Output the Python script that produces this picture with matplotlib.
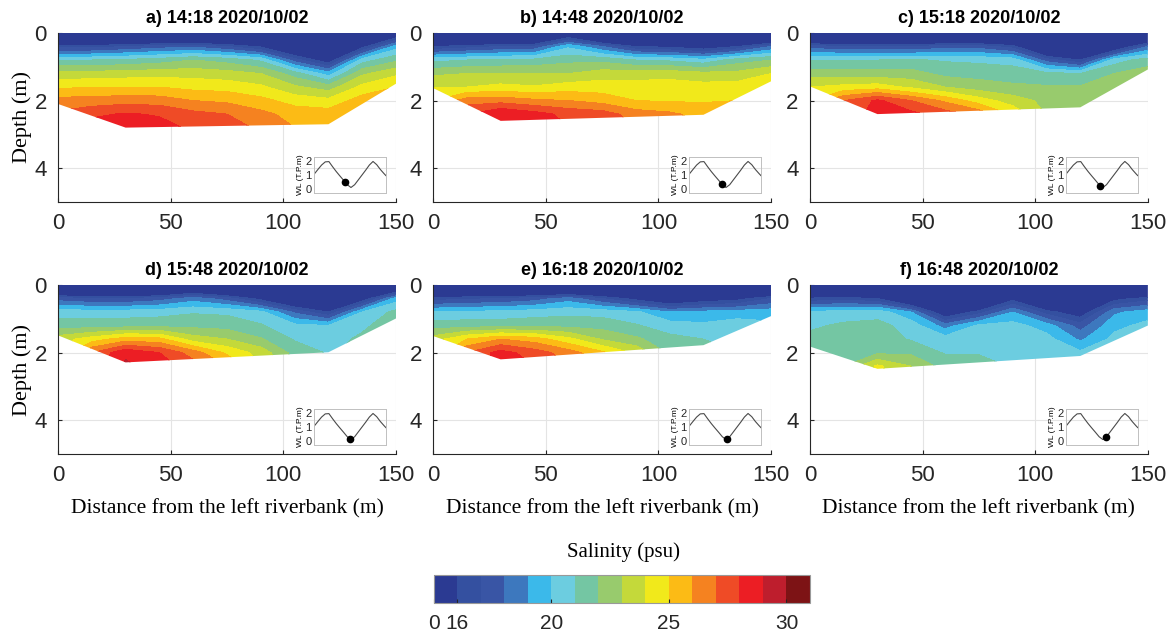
import numpy as np
import matplotlib
matplotlib.use("Agg")
import matplotlib.pyplot as plt
from matplotlib.patches import Polygon

plt.rcParams['font.family'] = ['Liberation Sans', 'DejaVu Sans']

# survey stations across the river (m) and depth levels (m)
x_st = [0, 15, 30, 45, 60, 75, 90, 105, 120, 135, 150]
z_lev = [0, 0.4, 0.8, 1.2, 1.6, 2.0, 2.4, 2.8]

# river bed (depth at bank / thalweg points)
bed_x = [0, 30, 120, 150]
bed_a = [2.1, 2.8, 2.7, 1.5]
bed_b = [1.63, 2.6, 2.42, 1.43]
bed_c = [1.58, 2.4, 2.2, 1.08]
bed_d = [1.49, 2.29, 1.99, 0.99]
bed_e = [1.51, 2.2, 1.78, 0.92]
bed_f = [1.82, 2.48, 2.1, 1.2]

# salinity profiles (psu), one row per station, values at z_lev
sal_a = [[10, 16.5, 21.0, 23.3, 24.8, 26.4, 27.2, 28.0],
         [10, 16.5, 21.0, 23.4, 25.0, 26.4, 27.8, 28.5],
         [10, 17.0, 21.2, 23.5, 25.0, 26.6, 28.1, 28.7],
         [10, 17.5, 21.5, 23.6, 25.0, 26.5, 27.9, 28.4],
         [10, 17.8, 22.0, 23.6, 24.7, 26.0, 27.3, 27.8],
         [10, 17.0, 21.6, 23.4, 24.6, 25.8, 27.0, 27.5],
         [10, 15.8, 20.8, 23.0, 24.2, 25.3, 26.3, 26.8],
         [10, 13.0, 17.5, 21.5, 23.2, 24.6, 25.6, 26.0],
         [8, 11.0, 15.0, 19.5, 22.5, 24.3, 25.5, 26.0],
         [10, 15.5, 20.5, 22.8, 24.3, 25.5, 26.0, 26.3],
         [14, 19.5, 21.8, 23.8, 25.0, 25.5, 26.0, 26.0]]
sal_b = [[10, 16.0, 20.7, 22.8, 24.0, 25.0, 26.0, 26.0],
         [10, 16.5, 21.0, 23.0, 24.0, 26.5, 28.0, 28.0],
         [10, 17.0, 21.2, 23.0, 24.3, 26.6, 29.0, 29.0],
         [10, 17.2, 21.3, 23.0, 24.1, 26.2, 28.4, 28.5],
         [14, 19.8, 21.7, 23.0, 24.5, 26.0, 27.7, 28.0],
         [10, 18.0, 21.7, 23.5, 24.5, 25.6, 27.5, 27.8],
         [10, 16.0, 21.0, 23.5, 24.5, 25.0, 26.5, 27.0],
         [10, 15.7, 20.8, 23.6, 24.5, 24.9, 26.2, 26.5],
         [10, 15.0, 20.3, 23.3, 24.4, 24.9, 25.6, 26.0],
         [10, 16.0, 21.5, 23.3, 24.5, 25.0, 25.5, 25.5],
         [10, 18.0, 22.0, 24.0, 24.5, 25.0, 25.0, 25.0]]
sal_c = [[10, 17.5, 21.0, 22.5, 24.0, 25.0, 25.0, 25.0],
         [10, 17.0, 21.0, 22.5, 24.3, 27.0, 27.0, 27.0],
         [10, 17.0, 21.0, 22.4, 24.5, 28.2, 28.6, 28.6],
         [10, 17.0, 21.1, 22.4, 23.8, 27.0, 28.3, 28.3],
         [10, 17.5, 20.9, 21.7, 23.0, 25.8, 27.5, 27.5],
         [10, 17.5, 20.8, 21.6, 22.5, 24.5, 26.7, 26.7],
         [10, 16.5, 20.6, 21.5, 22.2, 23.5, 24.8, 24.8],
         [10, 12.0, 17.5, 21.3, 22.1, 22.7, 23.0, 23.0],
         [10, 11.0, 16.0, 21.0, 22.1, 22.6, 22.8, 22.8],
         [10, 14.0, 20.5, 22.0, 22.6, 22.8, 22.8, 22.8],
         [10, 18.0, 21.5, 22.5, 22.8, 22.8, 22.8, 22.8]]
sal_d = [[10, 17.5, 20.5, 21.6, 23.5, 24.0, 24.0, 24.0],
         [10, 17.0, 20.5, 21.5, 24.5, 27.0, 27.0, 27.0],
         [10, 17.0, 20.5, 21.6, 25.5, 28.8, 29.2, 29.2],
         [10, 17.5, 20.6, 21.7, 25.3, 28.0, 28.5, 28.5],
         [12, 18.5, 20.9, 21.7, 23.5, 26.5, 27.5, 27.5],
         [10, 17.5, 20.8, 21.6, 23.0, 24.8, 26.0, 26.0],
         [10, 15.5, 20.3, 21.1, 22.1, 23.6, 24.0, 24.0],
         [10, 13.0, 17.8, 20.3, 20.9, 21.6, 22.0, 22.0],
         [10, 11.0, 16.0, 20.0, 20.6, 20.9, 21.0, 21.0],
         [10, 15.0, 20.0, 20.8, 21.2, 21.2, 21.2, 21.2],
         [12, 19.5, 21.3, 21.6, 21.6, 21.6, 21.6, 21.6]]
sal_e = [[10, 16.5, 20.0, 21.5, 23.5, 24.0, 24.0, 24.0],
         [10, 16.8, 20.2, 21.6, 25.0, 27.0, 27.0, 27.0],
         [10, 17.0, 20.3, 21.6, 26.0, 28.4, 28.5, 28.5],
         [10, 17.5, 20.5, 21.7, 25.5, 27.5, 28.0, 28.0],
         [10, 18.5, 20.7, 21.7, 24.3, 26.5, 27.0, 27.0],
         [10, 17.0, 20.6, 21.6, 22.9, 25.2, 26.0, 26.0],
         [10, 15.5, 20.2, 21.1, 22.2, 23.8, 24.0, 24.0],
         [10, 14.0, 19.0, 20.5, 21.3, 21.8, 22.0, 22.0],
         [10, 15.0, 19.3, 20.2, 21.0, 21.5, 21.5, 21.5],
         [10, 15.5, 19.5, 20.5, 20.8, 21.0, 21.0, 21.0],
         [10, 17.0, 19.6, 20.2, 20.5, 20.5, 20.5, 20.5]]
sal_f = [[10, 16.2, 20.2, 20.8, 21.3, 21.5, 21.5, 21.5],
         [10, 16.5, 20.4, 21.2, 21.5, 21.7, 22.0, 22.0],
         [10, 16.0, 20.6, 21.3, 21.5, 21.8, 24.2, 24.5],
         [10, 13.0, 19.0, 20.6, 20.9, 21.8, 23.0, 23.0],
         [8, 10.0, 14.5, 18.5, 20.5, 20.9, 21.6, 21.6],
         [8, 11.0, 16.5, 20.2, 20.6, 20.9, 21.5, 21.5],
         [10, 15.5, 19.0, 20.4, 20.6, 20.8, 20.9, 20.9],
         [9, 12.0, 16.5, 19.5, 20.4, 20.7, 20.8, 20.8],
         [8, 10.0, 15.0, 17.5, 18.8, 20.2, 20.5, 20.5],
         [10, 15.5, 18.8, 19.7, 20.3, 20.5, 20.5, 20.5],
         [10, 16.5, 19.5, 20.3, 20.5, 20.5, 20.5, 20.5]]

titles = ['a) 14:18 2020/10/02', 'b) 14:48 2020/10/02', 'c) 15:18 2020/10/02',
          'd) 15:48 2020/10/02', 'e) 16:18 2020/10/02', 'f) 16:48 2020/10/02']
obs_time = [14.3, 14.8, 15.3, 15.8, 16.3, 16.8]

# tide (water level, T.P. m) for the insets
wl_t = [6, 7, 8, 9, 10, 11, 12, 13, 14, 15, 16, 17, 18, 19, 20, 21, 22, 23, 24, 25, 25.5]
wl = [1.07, 1.4, 1.72, 1.95, 1.97, 1.6, 1.25, 0.93, 0.62, 0.3, 0.1, 0.3, 0.65,
      1.0, 1.35, 1.72, 1.98, 1.75, 1.4, 1.1, 0.96]

levels = [0, 16, 17, 18, 19, 20, 21, 22, 23, 24, 25, 26, 27, 28, 29, 30, 31]
colors = ['#2b3a92', '#3450a0', '#3955a5', '#3d78be', '#3bb9ea', '#6ccde0',
          '#74c6a3', '#98cb6d', '#c4d93a', '#f1e91b', '#fcbb15', '#f58220',
          '#ef4b26', '#ec1e24', '#be1e2d', '#7d1315']
cb_ticks = [0, 16, 20, 25, 30]

sals = [sal_a, sal_b, sal_c, sal_d, sal_e, sal_f]
beds = [bed_a, bed_b, bed_c, bed_d, bed_e, bed_f]

fig = plt.figure(figsize=(11.72, 6.39), dpi=100)
lefts = [0.0495, 0.3695, 0.691]
bottoms = [0.6839, 0.2895]
w, h = 0.2884, 0.2645
serif = 'Liberation Serif'
dark = '#262626'

for i in range(6):
    r, c = divmod(i, 3)
    ax = fig.add_axes([lefts[c], bottoms[r], w, h])
    S = np.array(sals[i]).T
    cs = ax.contourf(x_st, z_lev, S, levels=levels, colors=colors)

    # clip to the river cross-section
    verts = [(0, 0), (150, 0)] + list(zip(bed_x[::-1], beds[i][::-1]))
    poly = Polygon(verts, closed=True, facecolor='none', edgecolor='none')
    ax.add_patch(poly)
    cs.set_clip_path(poly)

    ax.set_xlim(0, 150)
    ax.set_ylim(5, 0)
    ax.set_xticks([0, 50, 100, 150])
    ax.set_yticks([0, 2, 4])
    ax.grid(color='#e4e4e4', lw=0.8)
    ax.set_axisbelow(True)
    for s in ['top', 'right']:
        ax.spines[s].set_visible(False)
    for s in ['left', 'bottom']:
        ax.spines[s].set_color(dark)
        ax.spines[s].set_linewidth(0.8)
    ax.tick_params(direction='in', length=3, labelsize=16, colors=dark, pad=8)
    ax.set_title(titles[i], fontsize=13, fontweight='bold', pad=7)
    if c == 0:
        ax.set_ylabel('Depth (m)', family=serif, fontsize=16, labelpad=2)
    if r == 1:
        ax.set_xlabel('Distance from the left riverbank (m)', family=serif,
                      fontsize=15.5, labelpad=9)

    # water level inset
    iax = ax.inset_axes([0.758, 0.053, 0.212, 0.213])
    iax.set_facecolor('none')
    iax.plot(wl_t, wl, color='#4a4a4a', lw=0.8)
    iax.plot(obs_time[i], np.interp(obs_time[i], wl_t, wl), 'o', color='k', ms=4.5)
    iax.set_xlim(wl_t[0], wl_t[-1])
    iax.set_ylim(-0.3, 2.3)
    iax.set_xticks([])
    iax.set_yticks([0, 1, 2])
    iax.tick_params(labelsize=8, length=0, pad=2, colors=dark)
    iax.set_ylabel('WL (T.P.m)', fontsize=6, labelpad=1)
    for s in iax.spines.values():
        s.set_color('#c0c0c0')
        s.set_linewidth(0.7)

cax = fig.add_axes([0.3703, 0.0563, 0.3208, 0.0438])
cb = fig.colorbar(cs, cax=cax, orientation='horizontal', ticks=cb_ticks)
cb.ax.tick_params(labelsize=15, direction='in', length=3, colors=dark, pad=8)
cb.outline.set_edgecolor('#999999')
cb.outline.set_linewidth(0.8)
fig.text(0.532, 0.136, 'Salinity (psu)', family=serif, fontsize=15,
         ha='center', va='center')

fig.savefig('out.png', dpi=100)
